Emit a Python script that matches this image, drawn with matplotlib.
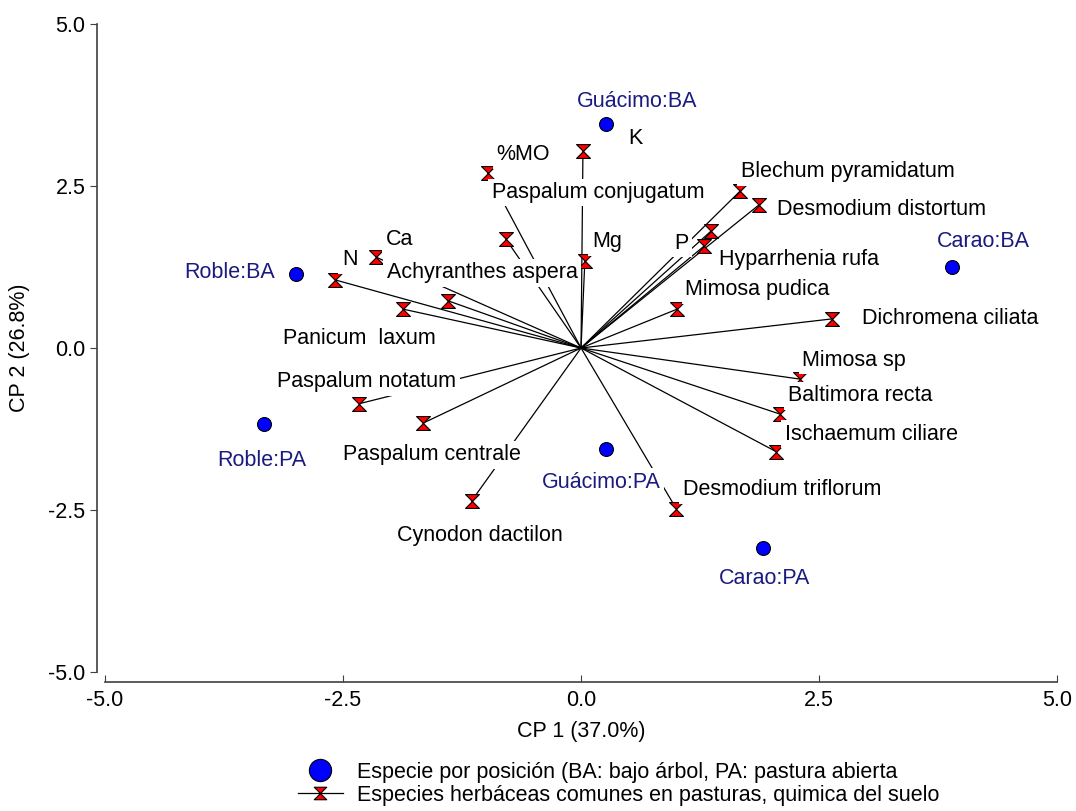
import numpy as np
import matplotlib
matplotlib.use('Agg')
from matplotlib import pyplot as plt
from matplotlib.path import Path
from matplotlib.lines import Line2D

plt.rcParams['font.family'] = ['Liberation Sans', 'DejaVu Sans']
FS = 15.5

# sitios (especie x posicion)
sitios = ['Guácimo:BA', 'Roble:BA', 'Roble:PA', 'Carao:BA', 'Guácimo:PA', 'Carao:PA']
sitios_x = [0.26, -2.99, -3.33, 3.90, 0.26, 1.91]
sitios_y = [3.46, 1.14, -1.17, 1.25, -1.56, -3.09]

# vectores: especies herbaceas y quimica del suelo
especies = ['%MO', 'K', 'Paspalum conjugatum', 'Mg', 'P', 'Blechum pyramidatum',
            'Desmodium distortum', 'Hyparrhenia rufa', 'Mimosa pudica',
            'Dichromena ciliata', 'Mimosa sp', 'Baltimora recta', 'Ischaemum ciliare',
            'Desmodium triflorum', 'Cynodon dactilon', 'Paspalum centrale',
            'Paspalum notatum', 'N', 'Ca', 'Panicum  laxum', 'Achyranthes aspera']
esp_x = [-0.98, 0.02, -0.79, 0.04, 1.37, 1.67, 1.87, 1.29, 1.01, 2.64, 2.30, 2.09, 2.05,
         1.00, -1.15, -1.66, -2.33, -2.58, -2.15, -1.87, -1.40]
esp_y = [2.70, 3.04, 1.68, 1.34, 1.81, 2.42, 2.21, 1.57, 0.60, 0.45, -0.48, -1.02, -1.60,
         -2.48, -2.36, -1.16, -0.86, 1.05, 1.40, 0.60, 0.73]

# posiciones de etiquetas (layout)
sitios_lab = [(0.59, 3.81), (-3.69, 1.17), (-3.35, -1.74), (4.23, 1.64), (0.21, -2.07), (1.93, -3.56)]
esp_lab = [(-0.61, 2.98), (0.57, 3.24), (0.18, 2.40), (0.27, 1.64), (1.05, 1.62), (2.80, 2.72),
           (3.16, 2.13), (2.29, 1.36), (1.85, 0.90), (3.88, 0.45), (2.87, -0.19), (2.93, -0.74),
           (3.05, -1.33), (2.11, -2.19), (-1.06, -2.90), (-1.57, -1.65), (-2.25, -0.52),
           (-2.43, 1.36), (-1.91, 1.68), (-2.33, 0.15), (-1.04, 1.16)]

# marcador tipo reloj de arena
hourglass = Path([(-1, 1), (1, 1), (-1, -1), (1, -1), (-1, 1)],
                 [Path.MOVETO, Path.LINETO, Path.LINETO, Path.LINETO, Path.CLOSEPOLY])

fig = plt.figure(figsize=(10.76, 8.11), dpi=100)
ax = fig.add_axes([0.0976, 0.1714, 0.8848, 0.799])

for x, y in zip(esp_x, esp_y):
    ax.plot([0, x], [0, y], color='black', lw=0.9, zorder=1)
ax.plot(esp_x, esp_y, ls='none', marker=hourglass, ms=10, mfc='#ff0000',
        mec='black', mew=0.8, zorder=2)
ax.plot(sitios_x, sitios_y, ls='none', marker='o', ms=10, mfc='#0000ff',
        mec='black', mew=0.8, zorder=2)

box = dict(facecolor='white', edgecolor='none', pad=2.5)
for name, (lx, ly) in zip(especies, esp_lab):
    ax.text(lx, ly, name, ha='center', va='center', fontsize=FS, color='black',
            bbox=box, zorder=3)
for name, (lx, ly) in zip(sitios, sitios_lab):
    ax.text(lx, ly, name, ha='center', va='center', fontsize=FS, color='#1a1a80',
            bbox=box, zorder=3)

ax.set_xlim(-5, 5)
ax.set_ylim(-5, 5)
ticks = [-5.0, -2.5, 0.0, 2.5, 5.0]
ax.set_xticks(ticks)
ax.set_yticks(ticks)
ax.set_xticklabels(['%.1f' % t for t in ticks])
ax.set_yticklabels(['%.1f' % t for t in ticks])
ax.tick_params(axis='x', direction='in', length=5, labelsize=FS, pad=6, color='#404040')
ax.tick_params(axis='y', direction='out', length=5, labelsize=FS, pad=3, color='#404040')
for s in ['top', 'right']:
    ax.spines[s].set_visible(False)
ax.spines['left'].set_position(('outward', 6))
ax.spines['bottom'].set_position(('outward', 7))
for s in ['left', 'bottom']:
    ax.spines[s].set_color('#404040')
    ax.spines[s].set_linewidth(1.2)

ax.set_xlabel('CP 1 (37.0%)', fontsize=FS, labelpad=7)
ax.set_ylabel('CP 2 (26.8%)', fontsize=FS, labelpad=13)

h1 = Line2D([], [], ls='none', marker='o', ms=16, mfc='#0000ff', mec='black', mew=0.8)
h2 = Line2D([], [], color='black', lw=0.9, marker=hourglass, ms=9, mfc='#ff0000',
            mec='black', mew=0.8)
fig.legend([h1, h2], ['Especie por posición (BA: bajo árbol, PA: pastura abierta',
                      'Especies herbáceas comunes en pasturas, quimica del suelo'],
           loc='upper left', bbox_to_anchor=(0.2766, 0.061), frameon=False,
           fontsize=FS, handlelength=2.1, handletextpad=0.65, labelspacing=0.1,
           borderaxespad=0, borderpad=0)

fig.savefig('out.png', dpi=100)
